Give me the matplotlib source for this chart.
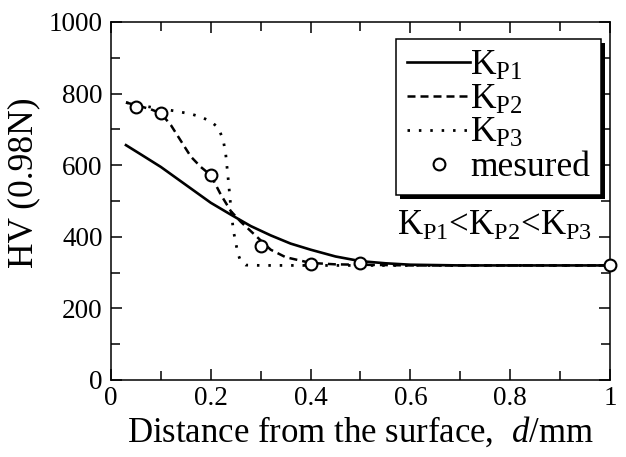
import matplotlib
matplotlib.use("Agg")
import matplotlib.pyplot as plt
from matplotlib.ticker import MultipleLocator
from matplotlib.patches import Rectangle
from matplotlib.transforms import IdentityTransform

plt.rcParams["font.family"] = ["Liberation Serif", "DejaVu Serif"]
plt.rcParams["mathtext.fontset"] = "custom"
plt.rcParams["mathtext.rm"] = "Liberation Serif"
plt.rcParams["mathtext.it"] = "Liberation Serif:italic"

# Hardness profiles computed for three values of K_P
kp1_d = [0.03, 0.06, 0.10, 0.14, 0.18, 0.20, 0.24, 0.28, 0.32, 0.36, 0.40,
         0.45, 0.50, 0.55, 0.60, 0.70, 0.80, 1.00]
kp1_hv = [656, 630, 595, 555, 515, 495, 462, 430, 404, 381, 364,
          345, 332, 326, 322, 320, 320, 320]

kp2_d = [0.03, 0.05, 0.08, 0.10, 0.12, 0.14, 0.16, 0.18, 0.20, 0.22, 0.24,
         0.26, 0.28, 0.30, 0.32, 0.35, 0.40, 0.45, 0.50, 0.60, 0.80, 1.00]
kp2_hv = [775, 768, 756, 745, 712, 668, 624, 595, 572, 518, 472,
          442, 416, 390, 364, 343, 327, 323, 322, 320, 320, 320]

kp3_d = [0.03, 0.08, 0.13, 0.16, 0.18, 0.20, 0.215, 0.225, 0.23, 0.235,
         0.24, 0.245, 0.25, 0.255, 0.26, 0.27, 0.30, 0.40, 0.50, 0.60, 0.80, 1.00]
kp3_hv = [775, 762, 751, 743, 735, 722, 705, 670, 630, 560,
          485, 420, 383, 350, 332, 321, 320, 320, 320, 320, 320, 320]

# Measured hardness
meas_d = [0.05, 0.10, 0.20, 0.30, 0.40, 0.50, 1.00]
meas_hv = [763, 746, 573, 374, 324, 327, 322]

fig = plt.figure(figsize=(6.26, 4.57), dpi=100)
ax = fig.add_axes([0.1773, 0.1685, 0.7971, 0.7834])

ax.plot(kp1_d, kp1_hv, color="black", lw=1.9, ls="-", label=r"K$_{\mathrm{P1}}$")
ax.plot(kp2_d, kp2_hv, color="black", lw=1.8, ls=(0, (3.2, 2.0)), label=r"K$_{\mathrm{P2}}$")
ax.plot(kp3_d, kp3_hv, color="black", lw=2.0, ls=(0, (0.9, 3.2)), label=r"K$_{\mathrm{P3}}$")
ax.plot(meas_d, meas_hv, ls="none", marker="o", ms=8.5, mfc="white", mec="black",
        mew=1.5, label="mesured", clip_on=False, zorder=5)

ax.set_xlim(0, 1)
ax.set_ylim(0, 1000)
ax.xaxis.set_major_locator(MultipleLocator(0.2))
ax.xaxis.set_minor_locator(MultipleLocator(0.1))
ax.yaxis.set_major_locator(MultipleLocator(200))
ax.yaxis.set_minor_locator(MultipleLocator(100))
ax.set_xticks([0, 0.2, 0.4, 0.6, 0.8, 1.0])
ax.set_xticklabels(["0", "0.2", "0.4", "0.6", "0.8", "1"])
ax.tick_params(which="both", direction="in", top=True, right=True, width=1.1,
               labelsize=19.5)
ax.tick_params(which="major", length=8, pad=4)
ax.tick_params(which="minor", length=6.5)
ax.tick_params(axis="y", pad=6)
for s in ax.spines.values():
    s.set_linewidth(1.1)

ax.set_xlabel(r"Distance from the surface,  $\mathit{d}$/mm", fontsize=25, labelpad=3)
ax.set_ylabel("HV (0.98N)", fontsize=25.5)
ax.yaxis.set_label_coords(-0.142, 0.55)

leg = ax.legend(loc="upper right", bbox_to_anchor=(0.982, 0.9525), borderaxespad=0,
                fontsize=25.5, frameon=True, fancybox=False, edgecolor="black",
                framealpha=1, shadow=False,
                handlelength=1.8, handletextpad=0.0, labelspacing=0.02,
                borderpad=0.3)
leg.get_frame().set_linewidth(1.1)
leg.set_zorder(6)

ax.text(0.964, 430, r"K$_{\mathrm{P1}}$<K$_{\mathrm{P2}}$<K$_{\mathrm{P3}}$",
        fontsize=25, ha="right", va="center")

# Solid drop shadow behind the legend box
fig.canvas.draw()
bb = leg.get_window_extent()
ax.add_patch(Rectangle((bb.x0 + 4, bb.y0 - 4), bb.width, bb.height,
                       transform=IdentityTransform(), facecolor="black",
                       edgecolor="none", zorder=5.5, clip_on=False))

fig.savefig("out.png", dpi=100)
